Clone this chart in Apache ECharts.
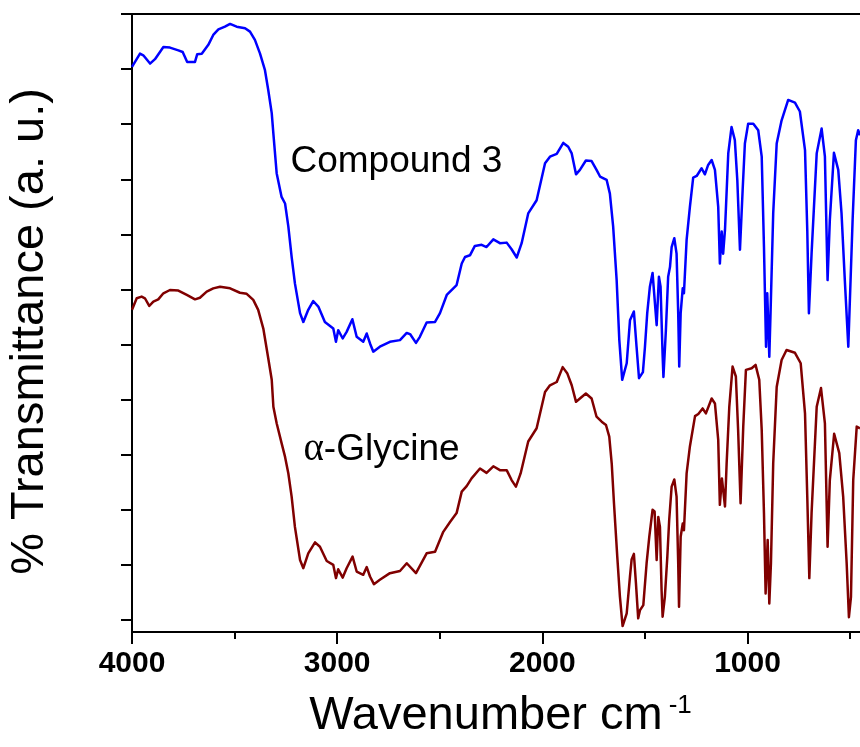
<!DOCTYPE html>
<html>
<head>
<meta charset="utf-8">
<script src="https://cdn.jsdelivr.net/npm/echarts@6/dist/echarts.min.js"></script>
<style>html,body{margin:0;padding:0;background:#fff}#c{width:860px;height:747px}</style>
</head>
<body>
<div id="c"></div>
<script>
// ---- Data ----
// x: wavenumber (cm^-1); y: transmittance in arbitrary units (10 units per y tick)
var compound3Wn = [4000,3961,3945,3912,3888,3847,3815,3774,3753,3731,3709,3693,3682,3660,3628,3604,3579,3547,3522,3490,3449,3425,3401,3376,3352,3336,3319,3311,3295,3271,3254,3238,3222,3206,3181,3165,3141,3117,3092,3060,3019,3006,2995,2973,2954,2926,2905,2873,2856,2840,2824,2792,2743,2694,2661,2645,2616,2597,2564,2523,2499,2466,2418,2393,2377,2353,2329,2296,2272,2239,2207,2174,2150,2125,2101,2069,2028,1987,1963,1930,1898,1874,1857,1836,1817,1788,1760,1736,1719,1687,1671,1655,1638,1625,1611,1589,1573,1554,1541,1529,1510,1500,1489,1476,1463,1455,1443,1432,1424,1414,1410,1398,1387,1378,1370,1357,1346,1338,1333,1326,1316,1310,1297,1281,1265,1248,1224,1208,1192,1175,1159,1143,1135,1126,1119,1110,1094,1078,1062,1050,1037,1024,1013,997,972,948,931,920,910,904,894,888,875,858,834,802,769,745,720,709,701,688,663,639,623,610,599,579,558,542,526,509,488,472,461,452];
var compound3T = [100.4,102.8,102.5,101.0,101.8,104.0,103.9,103.4,103.1,101.3,101.3,101.3,102.7,102.8,104.4,106.2,107.2,107.7,108.2,107.7,107.4,106.8,105.3,102.8,99.8,96.2,92.0,88.3,81.1,76.8,75.6,71.4,65.9,61.1,55.7,54.1,56.3,57.9,56.9,54.1,52.9,50.5,52.6,51.1,52.3,54.6,51.4,50.5,52.0,50.2,48.7,49.6,50.5,50.8,52.1,51.9,50.3,51.4,54.0,54.1,55.7,59.0,60.8,64.7,65.9,66.2,67.9,68.1,67.7,69.1,68.4,68.5,67.3,65.8,68.4,73.8,76.2,82.9,84.1,84.6,86.6,85.9,84.7,80.9,81.7,83.4,83.3,81.7,80.5,79.9,77.4,71.4,61.7,50.8,43.6,46.6,54.4,56.0,49.6,43.9,45.0,49.6,55.7,60.5,63.0,62.9,53.5,62.3,60.5,48.1,44.1,52.6,62.3,64.1,67.7,69.3,66.5,55.7,46.0,55.7,60.2,59.3,69.0,75.0,80.3,80.6,82.0,80.9,82.6,83.5,81.7,75.0,64.7,70.5,66.5,70.8,84.7,89.5,87.1,79.9,67.2,78.0,86.5,90.1,90.1,88.9,84.1,67.7,49.6,59.3,47.8,55.7,73.8,86.5,90.7,94.4,93.9,92.3,85.3,70.8,55.7,66.5,84.7,89.2,84.1,61.7,72.6,84.8,81.7,73.8,61.7,49.6,72.6,87.1,88.9,88.0];

var glycineWn = [4000,3977,3953,3937,3916,3896,3872,3847,3815,3774,3733,3693,3669,3636,3604,3571,3522,3474,3441,3409,3385,3360,3336,3319,3311,3295,3271,3254,3238,3222,3206,3181,3165,3141,3108,3084,3051,3019,3006,2995,2973,2954,2925,2905,2873,2856,2840,2821,2792,2743,2694,2661,2616,2564,2523,2483,2450,2418,2393,2369,2345,2304,2272,2239,2207,2174,2150,2129,2106,2069,2028,1987,1963,1930,1901,1879,1857,1836,1817,1788,1760,1736,1711,1690,1674,1662,1651,1635,1622,1609,1589,1573,1565,1554,1544,1533,1524,1508,1492,1479,1463,1453,1443,1435,1427,1419,1414,1403,1391,1382,1370,1357,1346,1338,1334,1326,1316,1310,1297,1281,1256,1240,1219,1203,1175,1159,1143,1135,1125,1119,1110,1102,1089,1073,1057,1046,1034,1021,1008,980,961,943,931,920,912,902,894,886,875,858,834,810,769,741,720,709,699,688,663,642,623,610,599,578,553,534,517,506,496,485,468,452];
var glycineT = [56.3,58.4,58.7,58.4,57.0,57.8,58.2,59.3,59.9,59.8,59.0,58.2,58.5,59.6,60.2,60.5,60.2,59.4,59.2,58.1,56.3,52.9,47.5,43.6,38.7,35.7,32.1,29.6,26.6,22.4,16.9,10.9,9.4,12.1,14.1,13.3,10.7,10.0,7.6,9.2,7.7,9.4,11.5,8.8,8.2,9.6,7.9,6.5,7.3,8.5,8.9,10.3,8.5,12.1,12.4,16.0,17.8,19.4,23.3,24.3,25.7,27.5,26.7,27.9,27.2,27.2,25.4,24.2,26.6,32.4,34.8,41.4,42.6,43.2,45.9,44.8,42.6,39.6,40.2,41.1,40.2,36.9,36.0,35.4,33.3,28.4,21.2,11.5,4.2,-1.1,1.2,7.9,11.0,12.0,6.7,0.3,1.8,2.7,10.3,15.1,20.0,19.7,10.9,18.7,16.9,5.4,0.6,4.2,11.5,18.1,24.2,25.5,22.4,10.3,2.4,15.1,17.5,16.3,26.6,31.5,37.0,37.4,38.4,37.5,40.2,39.3,32.7,20.9,25.7,25.4,20.6,28.4,38.7,46.0,44.2,34.5,21.2,35.1,45.4,45.7,46.3,43.6,34.5,19.4,4.8,14.5,3.0,10.3,28.4,42.3,47.2,49.0,48.5,46.6,37.5,22.4,7.6,19.4,38.7,42.1,35.7,13.3,25.4,33.8,30.3,22.4,10.3,0.5,4.2,25.4,35.1,34.8];

var xMajorTicks = [1000, 2000, 3000, 4000];
var xMinorTicks = [500, 1500, 2500, 3500];
var yTicks = [0, 10, 20, 30, 40, 50, 60, 70, 80, 90, 100, 110];
var seriesNames = ['Compound 3', 'α-Glycine'];
// annotation anchor positions in data coordinates [wavenumber, transmittance]
var compound3LabelAt = [3230, 83.2];
var glycineLabelAt = [3167, 30.9];

// ---- Chart ----
function zip(a, b) {
  var out = [];
  for (var i = 0; i < Math.min(a.length, b.length); i++) out.push([a[i], b[i]]);
  return out;
}
var FONT = 'Liberation Sans, Arial, Helvetica, sans-serif';
var X_MIN = 452, X_MAX = 4000, Y_MIN = -2.18, Y_MAX = 110;
var gridRect = {left: 132, top: 14, right: 0, bottom: 115, outerBoundsMode: 'none', containLabel: false};

var chart = echarts.init(document.getElementById('c'), null, {renderer: 'canvas'});
chart.setOption({
  animation: false,
  backgroundColor: '#ffffff',
  grid: [Object.assign({}, gridRect), Object.assign({}, gridRect)],
  xAxis: [
    {
      type: 'value', gridIndex: 0, position: 'bottom', min: X_MIN, max: X_MAX, inverse: true,
      axisLine: {show: true, onZero: false, lineStyle: {color: '#000', width: 2}},
      axisTick: {show: true, inside: false, length: 12, customValues: xMajorTicks, lineStyle: {color: '#000', width: 2}},
      axisLabel: {show: true, customValues: xMajorTicks, formatter: function (v) { return String(v); },
                  margin: 17, color: '#000', fontSize: 30, fontWeight: 'bold', fontFamily: FONT},
      splitLine: {show: false},
      name: '{a|Wavenumber cm}{b|-1}',
      nameLocation: 'middle', nameGap: 61, nameMoveOverlap: false,
      nameTextStyle: {
        padding: [0, 0, 0, 9],
        rich: {
          a: {fontSize: 47, lineHeight: 47, color: '#000', fontFamily: FONT},
          b: {fontSize: 26, lineHeight: 18, color: '#000', fontFamily: FONT, verticalAlign: 'top', padding: [0, 0, 0, 6]}
        }
      }
    },
    {
      type: 'value', gridIndex: 0, position: 'top', min: X_MIN, max: X_MAX, inverse: true,
      axisLine: {show: true, onZero: false, lineStyle: {color: '#000', width: 2}},
      axisTick: {show: false}, axisLabel: {show: false}, splitLine: {show: false}
    },
    {
      type: 'value', gridIndex: 1, position: 'bottom', min: X_MIN, max: X_MAX, inverse: true,
      axisLine: {show: false, onZero: false},
      axisTick: {show: true, inside: false, length: 7, customValues: xMinorTicks, lineStyle: {color: '#000', width: 2}},
      axisLabel: {show: false}, splitLine: {show: false}
    }
  ],
  yAxis: [
    {
      type: 'value', gridIndex: 0, position: 'left', min: Y_MIN, max: Y_MAX,
      axisLine: {show: true, onZero: false, lineStyle: {color: '#000', width: 2}},
      axisTick: {show: true, inside: false, length: 11, customValues: yTicks, lineStyle: {color: '#000', width: 2}},
      axisLabel: {show: false},
      splitLine: {show: false},
      name: '% Transmittance (a. u.)',
      nameLocation: 'middle', nameGap: 78, nameMoveOverlap: false,
      nameTextStyle: {fontSize: 47, lineHeight: 47, color: '#000', fontFamily: FONT, padding: [0, 17, 0, 0]}
    },
    {
      type: 'value', gridIndex: 1, min: Y_MIN, max: Y_MAX, show: false
    }
  ],
  series: [
    {
      name: seriesNames[0], type: 'line', xAxisIndex: 0, yAxisIndex: 0,
      data: zip(compound3Wn, compound3T), showSymbol: false, symbol: 'none',
      lineStyle: {color: '#0000ff', width: 2.5, join: 'round'}, itemStyle: {color: '#0000ff'},
      silent: true,
      markPoint: {
        symbol: 'rect', symbolSize: 1, itemStyle: {color: 'rgba(0,0,0,0)'}, silent: true,
        data: [{coord: compound3LabelAt, value: seriesNames[0]}],
        label: {show: true, position: 'right', distance: 0, formatter: seriesNames[0], color: '#000', fontSize: 37, fontFamily: FONT}
      }
    },
    {
      name: seriesNames[1], type: 'line', xAxisIndex: 0, yAxisIndex: 0,
      data: zip(glycineWn, glycineT), showSymbol: false, symbol: 'none',
      lineStyle: {color: '#800000', width: 2.5, join: 'round'}, itemStyle: {color: '#800000'},
      silent: true,
      markPoint: {
        symbol: 'rect', symbolSize: 1, itemStyle: {color: 'rgba(0,0,0,0)'}, silent: true,
        data: [{coord: glycineLabelAt, value: seriesNames[1]}],
        label: {
          show: true, position: 'right', distance: 0,
          formatter: '{g|α}{t|-Glycine}',
          rich: {
            g: {fontSize: 39, color: '#000', fontFamily: 'Liberation Serif, Times New Roman, serif'},
            t: {fontSize: 37, color: '#000', fontFamily: FONT}
          }
        }
      }
    }
  ]
});
</script>
</body>
</html>
